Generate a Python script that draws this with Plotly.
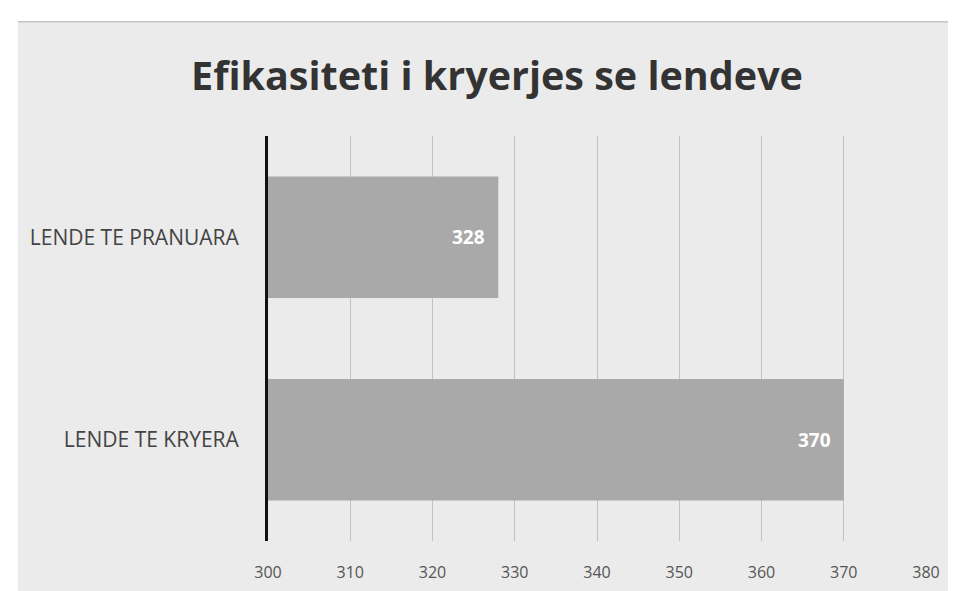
import plotly.graph_objects as go

categories = ["LENDE TE KRYERA", "LENDE TE PRANUARA"]
values = [370, 328]
x_ticks = [300, 310, 320, 330, 340, 350, 360, 370, 380]
title_text = "Efikasiteti i kryerjes se lendeve"

fig = go.Figure()
fig.add_trace(go.Bar(
    y=categories, x=values, orientation="h", base=0,
    marker=dict(color="#a9a9a9", line=dict(width=0)),
    width=0.6, showlegend=False, hoverinfo="skip",
))

for c, v in zip(categories, values):
    fig.add_annotation(x=v, y=c, xref="x", yref="y", text=f"<b>{v}</b>",
                       showarrow=False, xanchor="right", xshift=-11,
                       font=dict(family="Open Sans", size=19, color="white"))

# light chart panel
fig.add_shape(type="rect", xref="paper", yref="paper",
              x0=-0.38, x1=1.06, y0=-0.15, y1=1.282,
              fillcolor="#ebebeb", line=dict(width=0), layer="below")
fig.add_shape(type="line", xref="paper", yref="paper",
              x0=-0.38, x1=1.06, y0=1.282, y1=1.282,
              line=dict(color="#c4c4c4", width=1.5), layer="below")

fig.update_layout(
    width=956, height=591,
    margin=dict(l=260, r=38, t=128, b=58),
    paper_bgcolor="white", plot_bgcolor="rgba(0,0,0,0)",
    title=dict(text=f"<b>{title_text}</b>", x=0.5115, xanchor="center",
               y=1 - 68 / 591, yanchor="middle", yref="container",
               font=dict(family="Open Sans", size=39.5, color="#333333")),
    xaxis=dict(range=[300, 380], tickvals=x_ticks, showgrid=True,
               gridcolor="#c2c2c2", gridwidth=1, zeroline=False, showline=False,
               ticks="", ticklabelstandoff=20,
               tickfont=dict(family="Open Sans", size=16, color="#555555")),
    yaxis=dict(showline=True, linecolor="#111111", linewidth=3, showgrid=False,
               ticks="", ticklabelstandoff=22,
               tickfont=dict(family="Open Sans", size=21, color="#444444")),
    bargap=0.4,
)

fig.write_html("out.html")
